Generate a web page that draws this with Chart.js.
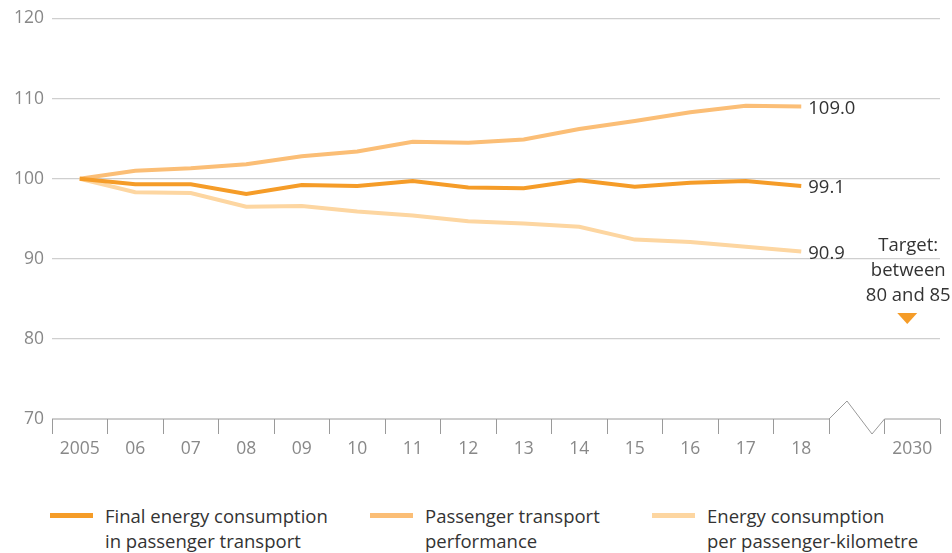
<!DOCTYPE html>
<html lang="en">
<head>
    <meta charset="UTF-8">
    <title>Passenger transport</title>
    <script src="https://cdn.jsdelivr.net/npm/chart.js"></script>
    <style>
        body { margin: 0; background: #fff; font-family: "Open Sans", sans-serif; }
        #wrap { position: relative; width: 952px; height: 553px; }
        #legend { position: absolute; left: 0; top: 503px; width: 952px; }
        .item { position: absolute; top: 0; color: #333; font-size: 18.5px; line-height: 25px; }
        .item .sw { position: absolute; top: 10px; width: 43px; height: 5px; }
        .item .tx { position: absolute; white-space: nowrap; }
    </style>
</head>
<body>
<div id="wrap">
    <canvas id="chart" width="952" height="465"></canvas>
    <div id="legend"></div>
</div>
<script>
    // Index 2005 = 100
    const years = ['2005', '06', '07', '08', '09', '10', '11', '12', '13', '14', '15', '16', '17', '18', '', '2030'];
    const finalEnergy = [100, 99.3, 99.3, 98.1, 99.2, 99.1, 99.7, 98.9, 98.8, 99.8, 99.0, 99.5, 99.7, 99.1, null, null];
    const transportPerf = [100, 101.0, 101.3, 101.8, 102.8, 103.4, 104.6, 104.5, 104.9, 106.2, 107.2, 108.3, 109.1, 109.0, null, null];
    const perPkm = [100, 98.3, 98.2, 96.5, 96.6, 95.9, 95.4, 94.7, 94.4, 94.0, 92.4, 92.1, 91.5, 90.9, null, null];
    const seriesNames = [
        ['Final energy consumption', 'in passenger transport'],
        ['Passenger transport', 'performance'],
        ['Energy consumption', 'per passenger-kilometre']
    ];
    const seriesColors = ['#f59c28', '#fbbe76', '#fdd6a1'];
    const endLabels = ['99.1', '109.0', '90.9'];
    const targetRange = [80, 85];
    const targetText = ['Target:', 'between', '80 and 85'];
    const breakIndex = 14;

    const FONT = '"Open Sans", sans-serif';

    // end labels, axis break and target marker
    const extras = {
        id: 'extras',
        afterDatasetsDraw(chart) {
            const ctx = chart.ctx;
            const x = chart.scales.x, y = chart.scales.y;
            const area = chart.chartArea;
            ctx.save();

            // value labels at the last point
            ctx.font = '18.5px ' + FONT;
            ctx.fillStyle = '#333';
            ctx.textAlign = 'left';
            ctx.textBaseline = 'middle';
            chart.data.datasets.forEach((ds, i) => {
                const meta = chart.getDatasetMeta(i);
                const pt = meta.data[breakIndex - 1];
                ctx.fillText(endLabels[i], pt.x + 7, pt.y + 2);
            });

            // baseline with zigzag break
            const half = (x.getPixelForValue(1) - x.getPixelForValue(0)) / 2;
            const bx0 = x.getPixelForValue(breakIndex) - half;
            const bx1 = x.getPixelForValue(breakIndex) + half;
            const by = y.getPixelForValue(70);
            ctx.strokeStyle = '#9a9a9a';
            ctx.lineWidth = 1;
            ctx.beginPath();
            ctx.moveTo(area.left, by);
            ctx.lineTo(bx0, by);
            ctx.lineTo(bx0 + 18, by - 18);
            ctx.lineTo(bx0 + 43, by + 15);
            ctx.lineTo(bx1, by);
            ctx.lineTo(area.right, by);
            ctx.stroke();

            // target
            const tx = x.getPixelForValue(breakIndex + 1) - 5;
            const ty = y.getPixelForValue((targetRange[0] + targetRange[1]) / 2);
            ctx.fillStyle = '#f59c28';
            ctx.beginPath();
            ctx.moveTo(tx - 10, ty - 6);
            ctx.lineTo(tx + 10, ty - 6);
            ctx.lineTo(tx, ty + 5);
            ctx.closePath();
            ctx.fill();
            ctx.fillStyle = '#333';
            ctx.textAlign = 'center';
            targetText.forEach((t, i) => {
                ctx.fillText(t, tx + 1, ty - 73 + i * 25);
            });
            ctx.restore();
        }
    };

    const ctx = document.getElementById('chart').getContext('2d');
    new Chart(ctx, {
        type: 'line',
        data: {
            labels: years,
            datasets: [finalEnergy, transportPerf, perPkm].map((d, i) => ({
                label: seriesNames[i].join(' '),
                data: d,
                borderColor: seriesColors[i],
                borderWidth: 4,
                pointRadius: 0,
                tension: 0,
                order: i
            }))
        },
        options: {
            responsive: false,
            animation: false,
            layout: { padding: { left: 0, right: 12, top: 11, bottom: 0 } },
            plugins: { legend: { display: false }, tooltip: { enabled: false } },
            scales: {
                x: {
                    offset: true,
                    grid: {
                        offset: true,
                        drawOnChartArea: false,
                        drawTicks: true,
                        tickLength: 15,
                        color: '#9a9a9a',
                        lineWidth: 1
                    },
                    border: { display: false },
                    ticks: {
                        color: '#888',
                        font: { family: FONT, size: 17.5 },
                        padding: 5,
                        autoSkip: false,
                        maxRotation: 0
                    }
                },
                y: {
                    min: 70,
                    max: 120,
                    afterFit(scale) { scale.width = 52; },
                    ticks: {
                        stepSize: 10,
                        color: '#888',
                        font: { family: FONT, size: 17.5 },
                        padding: 8
                    },
                    grid: {
                        drawTicks: false,
                        color: c => c.tick && c.tick.value === 70 ? 'rgba(0,0,0,0)' : '#cfcfcf',
                        lineWidth: 1.2
                    },
                    border: { display: false }
                }
            }
        },
        plugins: [extras]
    });

    // legend
    const legendLeft = [50, 370, 652];
    const legend = document.getElementById('legend');
    seriesNames.forEach((lines, i) => {
        const it = document.createElement('div');
        it.className = 'item';
        it.style.left = legendLeft[i] + 'px';
        it.innerHTML = '<div class="sw" style="background:' + seriesColors[i] + '"></div>' +
            '<div class="tx" style="left:55px">' + lines.join('<br>') + '</div>';
        legend.appendChild(it);
    });
</script>
</body>
</html>
